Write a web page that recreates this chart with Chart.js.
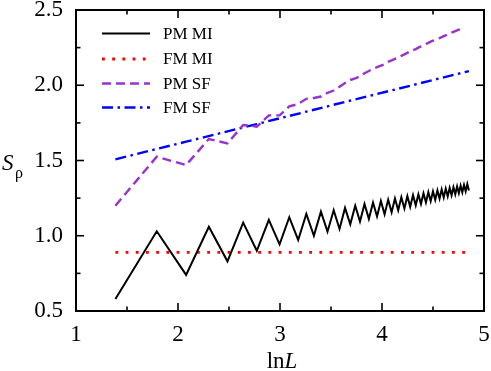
<!DOCTYPE html>
<html><head><meta charset="utf-8">
<script src="https://cdn.jsdelivr.net/npm/chart.js@4/dist/chart.umd.min.js"></script>
<style>html,body{margin:0;padding:0;background:#fff;}#wrap{width:491px;height:371px;}</style>
</head><body><div id="wrap"><canvas id="c" width="491" height="371"></canvas></div>
<script>
// ---- data (x axis is ln L) ----
const pmMiL = [4,6,8,10,12,14,16,18,20,22,24,26,28,30,32,34,36,38,40,42,44,46,48,50,52,54,56,58,60,62,64,66,68,70,72,74,76,78,80,82,84,86,88,90,92,94,96,98,100,102,104,106,108,110,112,114,116,118,120,122,124,126,128];
const pmMiS = [0.58,1.03,0.74,1.06,0.83,1.087,0.90,1.105,0.943,1.123,0.972,1.145,1.0,1.16,1.027,1.17,1.045,1.185,1.076,1.20,1.095,1.211,1.112,1.221,1.128,1.231,1.142,1.240,1.156,1.248,1.169,1.256,1.181,1.263,1.192,1.270,1.202,1.275,1.212,1.282,1.221,1.289,1.230,1.295,1.239,1.301,1.247,1.307,1.254,1.313,1.262,1.318,1.269,1.323,1.276,1.328,1.283,1.333,1.289,1.338,1.295,1.343,1.301];
const fmMiL = [4,8,16,32,64,128];
const fmMiS = [0.89,0.89,0.89,0.89,0.89,0.89];
const pmSfL = [4,6,8,10,12,14,16,18,20,22,24,26,28,30,32,34,36,38,40,42,44,46,48,50,52,54,56,58,60,62,64,66,68,70,72,74,76,78,80,82,84,86,88,90,92,94,96,98,100,102,104,106,108,110,112,114,116,118,120];
const pmSfS = [1.20,1.525,1.47,1.643,1.614,1.736,1.725,1.80,1.80,1.86,1.875,1.91,1.915,1.925,1.95,1.965,1.99,2.015,2.035,2.045,2.06,2.08,2.095,2.11,2.12,2.13,2.14,2.155,2.165,2.175,2.185,2.195,2.205,2.215,2.225,2.233,2.24,2.25,2.258,2.266,2.274,2.282,2.29,2.296,2.302,2.307,2.313,2.32,2.326,2.332,2.338,2.344,2.35,2.355,2.36,2.365,2.37,2.375,2.38];
const fmSfL = [4,8,16,32,64,128];
const fmSfS = [1.508,1.625,1.742,1.860,1.977,2.094];
const seriesNames = ['PM MI','FM MI','PM SF','FM SF'];
const xTicks = [1,2,3,4,5];
const yTicks = [0.5,1.0,1.5,2.0,2.5];

function pts(Ls, Ss){ return Ls.map((L,i)=>({x:Math.log(L), y:Ss[i]})); }

const serif = "'Liberation Serif','DejaVu Serif',serif";
const styles = [
  {color:'#000000', width:2, dash:[]},
  {color:'#ff0000', width:2.8, dash:[2.8,7.4]},
  {color:'#9933cc', width:2.4, dash:[9,5]},
  {color:'#0000ff', width:2.4, dash:[11,4.5,2.5,4.5]}
];
const data = [pts(pmMiL,pmMiS), pts(fmMiL,fmMiS), pts(pmSfL,pmSfS), pts(fmSfL,fmSfS)];

const frame = {
  id:'frame',
  afterDraw(chart){
    const {ctx, chartArea:a, scales:{x,y}} = chart;
    ctx.save();
    ctx.setLineDash([]);
    ctx.strokeStyle='#000';
    ctx.lineWidth=1.6;
    const line=(x1,y1,x2,y2)=>{ctx.beginPath();ctx.moveTo(x1,y1);ctx.lineTo(x2,y2);ctx.stroke();};
    for(let i=0;i<xTicks.length;i++){
      const v=xTicks[i];
      let px=x.getPixelForValue(v);
      line(px,a.bottom,px,a.bottom-8); line(px,a.top,px,a.top+8);
      if(i<xTicks.length-1){ px=x.getPixelForValue(v+0.5);
        line(px,a.bottom,px,a.bottom-4.5); line(px,a.top,px,a.top+4.5);}
    }
    for(let i=0;i<yTicks.length;i++){
      const v=yTicks[i];
      let py=y.getPixelForValue(v);
      line(a.left,py,a.left+8,py); line(a.right,py,a.right-8,py);
      if(i<yTicks.length-1){ py=y.getPixelForValue(v+0.25);
        line(a.left,py,a.left+4.5,py); line(a.right,py,a.right-4.5,py);}
    }
    ctx.lineWidth=2;
    ctx.strokeRect(a.left,a.top,a.right-a.left,a.bottom-a.top);
    // legend
    const rows=[33.5,59,83.5,107.5];
    ctx.font="17px "+serif; ctx.fillStyle='#000'; ctx.textBaseline='middle'; ctx.textAlign='left';
    for(let i=0;i<4;i++){
      const s=styles[i];
      ctx.strokeStyle=s.color; ctx.lineWidth=s.width; ctx.setLineDash(s.dash); ctx.lineCap='butt';
      line(102,rows[i],150,rows[i]);
      ctx.setLineDash([]);
      ctx.fillText(seriesNames[i],163,rows[i]+1);
    }
    // axis titles
    ctx.textBaseline='alphabetic';
    const cx=(a.left+a.right)/2;
    ctx.font="23px "+serif;
    const w1=ctx.measureText('ln').width;
    ctx.font="italic 23px "+serif;
    const w2=ctx.measureText('L').width;
    let sx=cx-(w1+w2)/2+2;
    ctx.font="23px "+serif; ctx.fillText('ln',sx,368);
    ctx.font="italic 23px "+serif; ctx.fillText('L',sx+w1,368);
    ctx.font="italic 23px "+serif; ctx.fillText('S',2,170);
    ctx.font="16px "+serif; ctx.fillText('ρ',15,178);
    ctx.restore();
  }
};

new Chart(document.getElementById('c'),{
  type:'line',
  data:{datasets: data.map((d,i)=>({
    label:seriesNames[i], data:d, borderColor:styles[i].color, borderWidth:styles[i].width,
    borderDash:styles[i].dash, pointRadius:0, fill:false, tension:0, borderCapStyle:'butt', borderJoinStyle:'miter'
  }))},
  options:{
    responsive:false, animation:false, devicePixelRatio:1,
    layout:{padding:{top:10,right:7,left:0,bottom:0}},
    plugins:{legend:{display:false}, tooltip:{enabled:false}},
    scales:{
      x:{type:'linear', min:1, max:5,
        afterBuildTicks:(s)=>{s.ticks=xTicks.map(v=>({value:v}));},
        afterFit:(s)=>{s.height=60; s.paddingLeft=0; s.paddingRight=0; s.paddingTop=0; s.paddingBottom=0;},
        ticks:{font:{family:serif,size:23}, color:'#000', padding:10, maxRotation:0, callback:v=>String(v)},
        grid:{display:false, drawTicks:false}, border:{display:false}},
      y:{type:'linear', min:0.5, max:2.5,
        afterBuildTicks:(s)=>{s.ticks=yTicks.map(v=>({value:v}));},
        afterFit:(s)=>{s.width=76; s.paddingLeft=0; s.paddingRight=0; s.paddingTop=0; s.paddingBottom=0;},
        ticks:{font:{family:serif,size:23}, color:'#000', padding:13, callback:v=>Number(v).toFixed(1)},
        grid:{display:false, drawTicks:false}, border:{display:false}}
    }
  },
  plugins:[frame]
});
</script></body></html>
